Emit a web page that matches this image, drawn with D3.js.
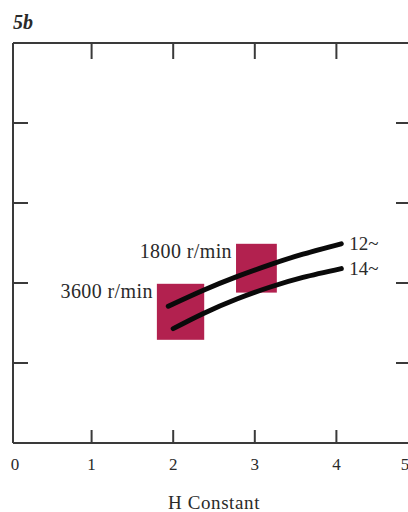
<!DOCTYPE html>
<html>
<head>
<meta charset="utf-8">
<script src="https://cdn.jsdelivr.net/npm/d3@7"></script>
<style>
  html, body { margin: 0; padding: 0; background: #ffffff; }
  svg { display: block; }
  text { font-family: "Liberation Serif", "DejaVu Serif", serif; fill: #2a2a2a; }
</style>
</head>
<body>
<script>
// ---- data ----
const xTicks = [0, 1, 2, 3, 4, 5];
const yTicks = [1, 2, 3, 4];
const curveNames = ["12~", "14~"];
const curve12 = [[1.94, 1.71], [2.37, 1.91], [2.78, 2.08], [3.19, 2.23], [3.59, 2.36], [4.06, 2.49]];
const curve14 = [[2.00, 1.43], [2.37, 1.62], [2.78, 1.80], [3.19, 1.95], [3.59, 2.07], [4.06, 2.18]];
const boxNames = ["3600 r/min", "1800 r/min"];
const boxX0 = [1.80, 2.77];
const boxX1 = [2.38, 3.27];
const boxY0 = [1.29, 1.88];
const boxY1 = [1.99, 2.49];
const xTitle = "H Constant";
const panelLabel = "5b";

// ---- layout ----
const W = 408, H = 512;
const svg = d3.select("body").append("svg").attr("width", W).attr("height", H);
const x = d3.scaleLinear().domain([0, 5]).range([10, 418]);
const y = d3.scaleLinear().domain([0, 5]).range([443, 43]);
const frameLeft = 13;
const axisColor = "#3a3a3a";

// boxes
const boxes = boxNames.map((n, i) => ({ name: n, x0: boxX0[i], x1: boxX1[i], y0: boxY0[i], y1: boxY1[i] }));
svg.selectAll("rect.box").data(boxes).join("rect")
  .attr("class", "box")
  .attr("x", d => x(d.x0)).attr("y", d => y(d.y1))
  .attr("width", d => x(d.x1) - x(d.x0)).attr("height", d => y(d.y0) - y(d.y1))
  .attr("fill", "#b2214f");

svg.selectAll("text.boxlab").data(boxes).join("text")
  .attr("class", "boxlab")
  .attr("x", d => x(d.x0) - 4)
  .attr("y", d => y(d.y1) + 14)
  .attr("text-anchor", "end")
  .attr("font-size", 20)
  .attr("letter-spacing", 0.4)
  .text(d => d.name);

// curves
const line = d3.line().x(d => x(d[0])).y(d => y(d[1])).curve(d3.curveNatural);
const curves = [curve12, curve14];
svg.selectAll("path.curve").data(curves).join("path")
  .attr("class", "curve")
  .attr("d", line)
  .attr("fill", "none").attr("stroke", "#0a0a0a")
  .attr("stroke-width", 5).attr("stroke-linecap", "round");

svg.selectAll("text.curvelab").data(curves).join("text")
  .attr("class", "curvelab")
  .attr("x", d => x(d[d.length - 1][0]) + 8)
  .attr("y", d => y(d[d.length - 1][1]) + 6)
  .attr("font-size", 19)
  .text((d, i) => curveNames[i]);

// frame / axes
const g = svg.append("g").attr("stroke", axisColor).attr("stroke-width", 2).attr("fill", "none");
g.append("line").attr("x1", frameLeft).attr("x2", W).attr("y1", y(5)).attr("y2", y(5));
g.append("line").attr("x1", frameLeft).attr("x2", W).attr("y1", y(0)).attr("y2", y(0));
g.append("line").attr("x1", frameLeft).attr("x2", frameLeft).attr("y1", y(5)).attr("y2", y(0));

const innerX = xTicks.filter(v => v > 0 && v < 5);
// top ticks (pointing down)
g.selectAll("line.tt").data(innerX).join("line")
  .attr("x1", d => x(d)).attr("x2", d => x(d)).attr("y1", y(5)).attr("y2", y(5) + 16);
// bottom ticks (pointing up)
g.selectAll("line.bt").data(innerX).join("line")
  .attr("x1", d => x(d)).attr("x2", d => x(d)).attr("y1", y(0)).attr("y2", y(0) - 13);
// left ticks
g.selectAll("line.lt").data(yTicks).join("line")
  .attr("x1", frameLeft).attr("x2", frameLeft + 15).attr("y1", d => y(d)).attr("y2", d => y(d));
// right ticks
g.selectAll("line.rt").data(yTicks).join("line")
  .attr("x1", W - 12).attr("x2", W).attr("y1", d => y(d)).attr("y2", d => y(d));

// tick labels
svg.selectAll("text.xt").data(xTicks).join("text")
  .attr("class", "xt")
  .attr("x", d => d === 0 ? frameLeft + 2 : Math.min(x(d), W - 3))
  .attr("y", 470)
  .attr("text-anchor", "middle")
  .attr("font-size", 17)
  .text(d => d);

svg.append("text")
  .attr("x", (x(2) + x(3)) / 2)
  .attr("y", 509)
  .attr("text-anchor", "middle")
  .attr("font-size", 19)
  .attr("letter-spacing", 0.6)
  .text(xTitle);

svg.append("text")
  .attr("x", 13).attr("y", 29)
  .attr("font-size", 20).attr("font-weight", "bold").attr("font-style", "italic")
  .text(panelLabel);
</script>
</body>
</html>
